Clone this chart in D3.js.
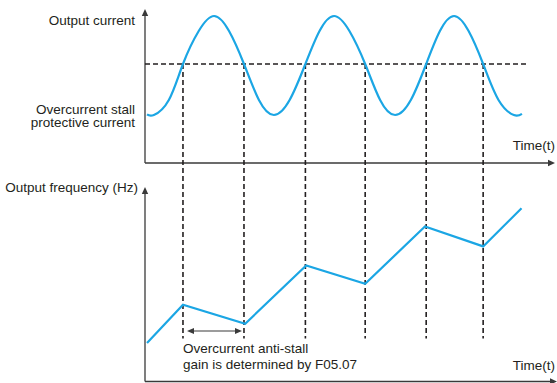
<!DOCTYPE html>
<html>
<head>
<meta charset="utf-8">
<script src="https://cdn.jsdelivr.net/npm/d3@7"></script>
<style>
  html, body { margin: 0; padding: 0; background: #ffffff; }
  svg { display: block; }
  text { font-family: "Liberation Sans", Arial, Helvetica, sans-serif; font-size: 13.5px; fill: #231f20; }
</style>
</head>
<body>
<svg id="chart" width="557" height="383"></svg>
<script>
// ---- Data ----
// Output current waveform: time (arbitrary units) and current level (arbitrary units)
const currentTime  = [0.5, 2.2, 5.9, 9.4, 13.3, 17.1, 20.8, 24.5, 28.2, 31.9, 35.8, 39.7, 43.2, 46.8, 50.6, 54.5, 58.2, 61.9, 65.8, 69.6, 73.0, 76.5, 80.1, 83.7, 87.5, 91.3, 93.3];
const currentValue = [3.24, 3.2, 4.2, 6.6, 8.8, 9.8, 8.8, 6.6, 4.2, 3.2, 4.2, 6.6, 8.8, 9.8, 8.8, 6.6, 4.2, 3.2, 4.2, 6.6, 8.8, 9.8, 8.8, 6.6, 4.2, 3.2, 3.28];
// Overcurrent stall protective current level
const stallLevel = 6.6;
// Times where current crosses the stall level
const crossTimes = [9.4, 24.5, 39.7, 54.5, 69.6, 83.7];
// Output frequency (arbitrary units)
const freqTime  = [0.5, 9.4, 24.8, 39.9, 54.5, 69.3, 83.7, 93.2];
const freqValue = [20.2, 40.4, 30.4, 61.1, 51.4, 81.6, 71.1, 91.2];
// Labels
const labels = {
  topY: "Output current",
  stall: ["Overcurrent stall", "protective current"],
  time: "Time(t)",
  bottomY: "Output frequency (Hz)",
  note: ["Overcurrent anti-stall", "gain is determined by F05.07"]
};

// ---- Layout ----
const svg = d3.select("#chart");
const axisColor = "#3a3a3a";
const blue = "#1ba6e4";
const dashColor = "#231f20";

const x = d3.scaleLinear().domain([0, 100]).range([145, 549]);
const yCur = d3.scaleLinear().domain([0, 10]).range([163, 13]);
const yFreq = d3.scaleLinear().domain([0, 100]).range([381.5, 191.5]);

const axisLeft = 145, axisEnd = 555;

function arrowUp(xp, yp) {
  svg.append("path").attr("d", `M${xp},${yp} L${xp-3.2},${yp+7} L${xp+3.2},${yp+7} Z`).attr("fill", axisColor);
}
function arrowRight(xp, yp) {
  svg.append("path").attr("d", `M${xp},${yp} L${xp-7},${yp-3.2} L${xp-7},${yp+3.2} Z`).attr("fill", axisColor);
}

// Top axes
svg.append("line").attr("x1", axisLeft).attr("x2", axisLeft).attr("y1", yCur(0)).attr("y2", 14)
  .attr("stroke", axisColor).attr("stroke-width", 1.3);
arrowUp(axisLeft, 9);
svg.append("line").attr("x1", axisLeft).attr("x2", axisEnd - 5).attr("y1", yCur(0)).attr("y2", yCur(0))
  .attr("stroke", axisColor).attr("stroke-width", 1.3);
arrowRight(axisEnd, yCur(0));

// Bottom axes
svg.append("line").attr("x1", axisLeft).attr("x2", axisLeft).attr("y1", yFreq(0)).attr("y2", 192)
  .attr("stroke", axisColor).attr("stroke-width", 1.3);
arrowUp(axisLeft, 187);
svg.append("line").attr("x1", axisLeft).attr("x2", axisEnd - 5).attr("y1", yFreq(0)).attr("y2", yFreq(0))
  .attr("stroke", axisColor).attr("stroke-width", 1.3);
arrowRight(axisEnd + 2, yFreq(0));

// Stall level dashed line
svg.append("line").attr("x1", axisLeft).attr("x2", x(94.6)).attr("y1", yCur(stallLevel)).attr("y2", yCur(stallLevel))
  .attr("stroke", dashColor).attr("stroke-width", 1.6).attr("stroke-dasharray", "5,3");

// Vertical guide lines
const guideBottom = 22.6;
svg.selectAll("line.guide").data(crossTimes).enter().append("line").attr("class", "guide")
  .attr("x1", d => x(d)).attr("x2", d => x(d))
  .attr("y1", yCur(stallLevel)).attr("y2", yFreq(guideBottom))
  .attr("stroke", dashColor).attr("stroke-width", 1.6).attr("stroke-dasharray", "5,3");

// Current waveform
const curData = currentTime.map((t, i) => [t, currentValue[i]]);
svg.append("path").datum(curData)
  .attr("d", d3.line().x(d => x(d[0])).y(d => yCur(d[1])).curve(d3.curveNatural))
  .attr("fill", "none").attr("stroke", blue).attr("stroke-width", 2.2);

// Frequency line
const freqData = freqTime.map((t, i) => [t, freqValue[i]]);
svg.append("path").datum(freqData)
  .attr("d", d3.line().x(d => x(d[0])).y(d => yFreq(d[1])))
  .attr("fill", "none").attr("stroke", blue).attr("stroke-width", 2.2).attr("stroke-linejoin", "miter");

// Double-headed arrow between first two crossings
const ay = 331;
const ax1 = x(crossTimes[0]) + 4, ax2 = x(crossTimes[1]) - 2;
svg.append("line").attr("x1", ax1 + 5).attr("x2", ax2 - 5).attr("y1", ay).attr("y2", ay)
  .attr("stroke", axisColor).attr("stroke-width", 1.2);
svg.append("path").attr("d", `M${ax1},${ay} L${ax1+7},${ay-3} L${ax1+7},${ay+3} Z`).attr("fill", axisColor);
svg.append("path").attr("d", `M${ax2},${ay} L${ax2-7},${ay-3} L${ax2-7},${ay+3} Z`).attr("fill", axisColor);

// Texts
svg.append("text").attr("x", 135).attr("y", 24.5).attr("text-anchor", "end").text(labels.topY);
svg.append("text").attr("x", 135).attr("y", 113.5).attr("text-anchor", "end").text(labels.stall[0]);
svg.append("text").attr("x", 135).attr("y", 127).attr("text-anchor", "end").text(labels.stall[1]);
svg.append("text").attr("x", 555).attr("y", 150).attr("text-anchor", "end").text(labels.time);
svg.append("text").attr("x", 555).attr("y", 369.5).attr("text-anchor", "end").text(labels.time);
svg.append("text").attr("x", 138).attr("y", 192).attr("text-anchor", "end").text(labels.bottomY);
svg.append("text").attr("x", 183).attr("y", 353).text(labels.note[0]);
svg.append("text").attr("x", 183).attr("y", 369).text(labels.note[1]);
</script>
</body>
</html>
